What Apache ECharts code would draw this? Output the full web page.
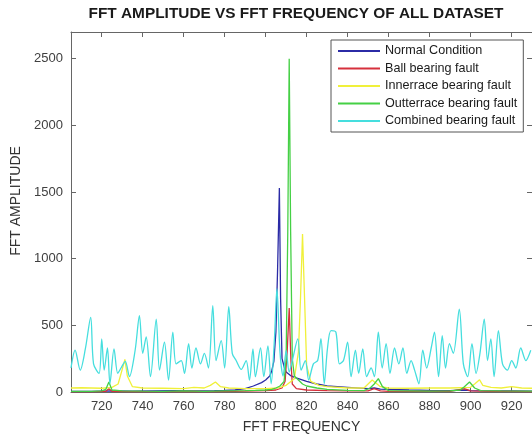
<!DOCTYPE html>
<html>
<head>
<meta charset="utf-8">
<script src="https://cdn.jsdelivr.net/npm/echarts@6/dist/echarts.min.js"></script>
<style>
  html, body { margin: 0; padding: 0; background: #fff; }
  #c1 { width: 532px; height: 439px; }
</style>
</head>
<body>
<div id="c1"></div>
<script>
// tick labels
var xTicks = [720, 740, 760, 780, 800, 820, 840, 860, 880, 900, 920]
var yTicks = [0, 500, 1000, 1500, 2000, 2500]

// Normal Condition
var normalFreq = [705, 715, 725, 735, 745, 755, 765, 775, 780, 785, 790, 794, 798, 800, 802, 803, 804, 805, 805.8, 806.7, 807.3, 808, 809, 810, 812, 814, 816, 820, 825, 830, 840, 850, 853, 856, 860, 870, 880, 890, 897, 900, 910, 920, 930]
var normalAmp = [5, 5, 8, 6, 8, 10, 8, 10, 12, 15, 25, 45, 70, 90, 120, 160, 230, 450, 900, 1530, 700, 250, 190, 150, 125, 110, 100, 80, 60, 45, 35, 25, 30, 22, 20, 15, 12, 10, 15, 10, 8, 8, 6]

// Ball bearing fault
var ballFreq = [705, 715, 722, 723.5, 725, 735, 745, 755, 765, 775, 785, 795, 800, 805, 808, 809.5, 810.5, 811.5, 812.3, 813, 815, 820, 830, 840, 850, 853, 856, 860, 870, 880, 890, 897, 900, 910, 920, 930]
var ballAmp = [3, 3, 5, 25, 5, 3, 3, 3, 5, 3, 5, 8, 10, 15, 30, 80, 300, 630, 250, 60, 25, 15, 10, 8, 8, 25, 8, 5, 5, 5, 5, 25, 8, 5, 5, 3]

// Innerrace bearing fault
var innerFreq = [705, 710, 715, 720, 725, 728, 730, 731.3, 732.5, 735, 740, 750, 760, 765, 770, 773, 775.5, 778, 782, 790, 800, 806, 810, 814, 816, 817, 818, 819, 820, 822, 826, 830, 840, 848, 852, 856, 860, 870, 880, 890, 900, 902, 904.4, 906, 910, 915, 920, 925, 930]
var innerAmp = [30, 32, 30, 28, 35, 60, 170, 245, 120, 40, 30, 28, 25, 35, 30, 50, 75, 40, 30, 25, 25, 30, 50, 100, 300, 700, 1185, 700, 200, 80, 50, 40, 30, 30, 90, 40, 30, 28, 30, 30, 35, 60, 92, 50, 35, 30, 40, 30, 28]

// Outterrace bearing fault
var outerFreq = [705, 715, 720, 722, 723.5, 725, 730, 740, 750, 760, 770, 780, 790, 795, 800, 803, 805, 807, 809, 810, 810.8, 811.5, 812.2, 813, 814, 816, 818, 820, 825, 830, 840, 848, 851, 853, 855, 857, 860, 870, 880, 890, 895, 897, 899.5, 902, 905, 915, 930]
var outerAmp = [5, 5, 8, 20, 75, 15, 8, 6, 5, 8, 5, 8, 10, 12, 15, 20, 30, 45, 80, 250, 1200, 2500, 1200, 250, 120, 90, 60, 45, 30, 20, 12, 10, 30, 60, 100, 40, 10, 8, 6, 8, 15, 40, 75, 30, 10, 8, 6]

// Combined bearing fault
var combinedFreq = [705, 707, 709.5, 712, 714.6, 716, 718.7, 720, 721.2, 722.8, 724, 726, 727.8, 729.4, 731.5, 733.5, 736.3, 738.4, 740, 741.7, 743.8, 746.6, 748.2, 750.6, 752.6, 754.7, 756.3, 758.8, 760.4, 762.4, 764, 766, 768.2, 770.1, 772.1, 774.2, 775.8, 778.3, 780, 782, 783.7, 785.6, 788.1, 790.5, 792.1, 793.8, 795, 797.5, 799.1, 801.1, 802.7, 804.3, 805.5, 807, 808.5, 810, 811.5, 813, 815.7, 817.3, 819.4, 821, 823.3, 825.4, 827, 828.6, 830.2, 831.9, 834.3, 836, 838, 840, 841.7, 843.8, 845.4, 847.4, 849.3, 851.5, 853.1, 855, 856.9, 858.8, 860.7, 862.9, 865, 867, 868.9, 871, 872.7, 874.8, 876.7, 878.6, 880.8, 882.4, 884.4, 886.2, 887.8, 889.7, 891.6, 894.5, 896.5, 898.6, 900.7, 902.7, 904.6, 906.7, 908.3, 909.9, 911.5, 913.6, 915.6, 918, 920.1, 922.1, 924.5, 927, 929.4]
var combinedAmp = [180, 313, 164, 323, 560, 211, 140, 398, 164, 330, 62, 323, 140, 180, 230, 115, 313, 572, 290, 413, 115, 547, 164, 373, 90, 448, 211, 236, 140, 363, 180, 330, 211, 290, 180, 647, 236, 385, 180, 640, 290, 236, 170, 236, 90, 323, 115, 330, 115, 345, 62, 400, 775, 300, 120, 310, 150, 236, 398, 164, 236, 90, 211, 236, 400, 62, 330, 460, 448, 211, 236, 373, 115, 313, 140, 323, 115, 180, 115, 448, 180, 363, 140, 330, 211, 330, 140, 236, 164, 62, 313, 180, 330, 448, 115, 423, 180, 363, 290, 622, 211, 115, 363, 140, 290, 547, 236, 398, 115, 460, 211, 164, 236, 180, 330, 236, 313]

var pairs = function (xs, ys) {
  return xs.map(function (x, i) { return [x, ys[i]] })
}

var myChart = echarts.init(document.getElementById('c1'))
var axisColor = '#666'
var labelStyle = { color: '#404040', fontSize: 13, fontFamily: 'Liberation Sans' }
var plain = function (v) { return String(v) }

var mkLine = function (name, color, xs, ys, smooth) {
  return {
    name: name,
    type: 'line',
    data: pairs(xs, ys),
    showSymbol: false,
    symbol: 'none',
    smooth: smooth || false,
    sampling: null,
    lineStyle: { width: 1.3, color: color },
    itemStyle: { color: color }
  }
}

var option = {
  animation: false,
  backgroundColor: '#fff',
  title: {
    text: 'FFT AMPLITUDE VS FFT FREQUENCY OF ALL DATASET',
    left: 296,
    textAlign: 'center',
    top: 6,
    padding: 0,
    textStyle: { fontSize: 15.4, fontWeight: 'bold', color: '#1a1a1a', fontFamily: 'Liberation Sans' }
  },
  grid: { left: 71, top: 32, right: -2, bottom: 44 },
  legend: {
    orient: 'vertical',
    left: 331,
    top: 40,
    padding: [4, 6, 4, 7],
    itemGap: 3.5,
    itemWidth: 42,
    itemHeight: 2,
    icon: 'rect',
    borderColor: '#555',
    borderWidth: 1,
    backgroundColor: '#fff',
    textStyle: { fontSize: 12.6, color: '#1a1a1a', fontFamily: 'Liberation Sans', lineHeight: 14 },
    data: ['Normal Condition', 'Ball bearing fault', 'Innerrace bearing fault', 'Outterrace bearing fault', 'Combined bearing fault']
  },
  xAxis: [
    {
      type: 'value',
      min: 705,
      max: 930,
      name: 'FFT FREQUENCY',
      nameLocation: 'middle',
      nameGap: 28,
      nameTextStyle: { fontSize: 14, color: '#333', fontFamily: 'Liberation Sans' },
      axisLine: { show: true, onZero: false, lineStyle: { color: axisColor } },
      axisTick: { show: true, inside: true, length: 5, customValues: xTicks, lineStyle: { color: axisColor } },
      axisLabel: { customValues: xTicks, margin: 8, formatter: plain, ...labelStyle },
      splitLine: { show: false }
    },
    {
      type: 'value',
      position: 'top',
      min: 705,
      max: 930,
      axisLine: { show: true, onZero: false, lineStyle: { color: axisColor } },
      axisTick: { show: true, inside: true, length: 5, customValues: xTicks, lineStyle: { color: axisColor } },
      axisLabel: { show: false },
      splitLine: { show: false }
    }
  ],
  yAxis: [
    {
      type: 'value',
      min: 0,
      max: 2700,
      name: 'FFT AMPLITUDE',
      nameLocation: 'middle',
      nameGap: 40,
      nameTextStyle: { fontSize: 14, color: '#333', fontFamily: 'Liberation Sans', padding: [0, 0, 0, 22] },
      axisLine: { show: true, onZero: false, lineStyle: { color: axisColor } },
      axisTick: { show: true, inside: true, length: 5, customValues: yTicks, lineStyle: { color: axisColor } },
      axisLabel: { customValues: yTicks, margin: 8, formatter: plain, ...labelStyle },
      splitLine: { show: false }
    },
    {
      type: 'value',
      position: 'right',
      min: 0,
      max: 2700,
      axisLine: { show: true, onZero: false, lineStyle: { color: axisColor } },
      axisTick: { show: true, inside: true, length: 5, customValues: yTicks, lineStyle: { color: axisColor } },
      axisLabel: { show: false },
      splitLine: { show: false }
    }
  ],
  series: [
    mkLine('Normal Condition', '#2b2ba6', normalFreq, normalAmp),
    mkLine('Ball bearing fault', '#d6303c', ballFreq, ballAmp),
    mkLine('Innerrace bearing fault', '#f0f03a', innerFreq, innerAmp),
    mkLine('Outterrace bearing fault', '#45d045', outerFreq, outerAmp),
    mkLine('Combined bearing fault', '#45dede', combinedFreq, combinedAmp, 0.3)
  ]
}
option && myChart.setOption(option)
</script>
</body>
</html>
